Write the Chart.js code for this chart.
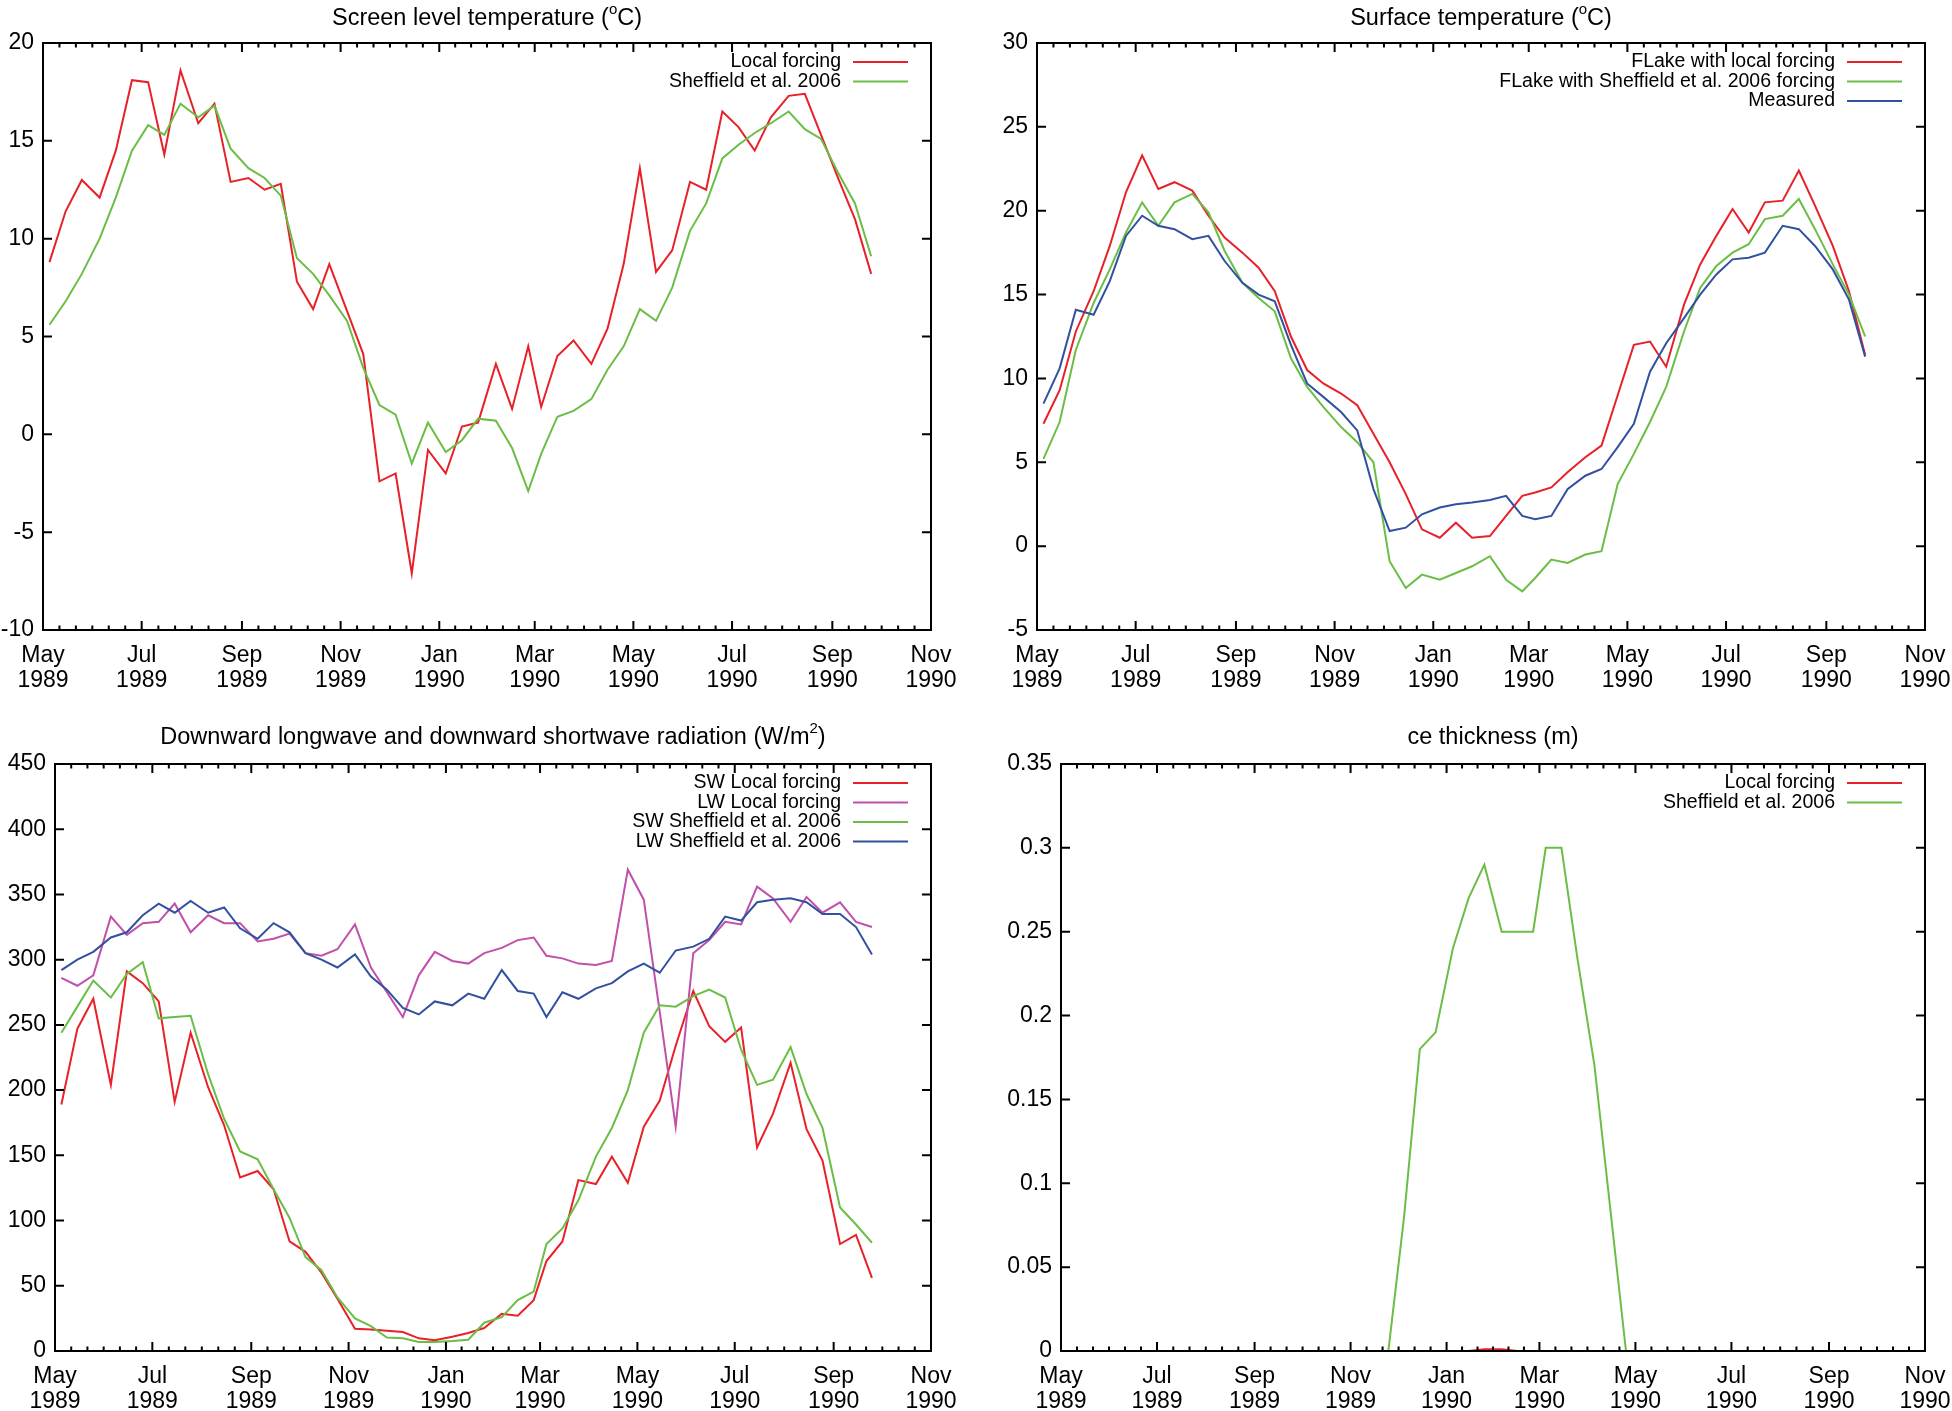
<!DOCTYPE html>
<html>
<head>
<meta charset="utf-8">
<script src="https://cdn.jsdelivr.net/npm/chart.js@4.4.0/dist/chart.umd.min.js"></script>
<style>
body { margin: 0; background: #fff; }
canvas { position: absolute; }
</style>
</head>
<body>
<canvas id="tl" style="left:0;top:0" width="976" height="705"></canvas>
<canvas id="tr" style="left:976px;top:0" width="976" height="705"></canvas>
<canvas id="bl" style="left:0;top:705px" width="976" height="706"></canvas>
<canvas id="br" style="left:976px;top:705px" width="976" height="706"></canvas>
<script>
// x tick labels (two lines each) and their dates
var xTickLabels = ['May 1989', 'Jul 1989', 'Sep 1989', 'Nov 1989', 'Jan 1990', 'Mar 1990', 'May 1990', 'Jul 1990', 'Sep 1990', 'Nov 1990'];
var xTickDates = ['1989-05-01', '1989-07-01', '1989-09-01', '1989-11-01', '1990-01-01', '1990-03-01', '1990-05-01', '1990-07-01', '1990-09-01', '1990-11-01'];

// the series are dekad means, May 1989 .. Sep 1990 (3 per month)
var firstMonth = '1989-05';
var dekadDay = [5, 15, 25];
var nPoints = 51;

// Screen level temperature (oC)
var screenLocal = [8.8, 11.4, 13.0, 12.1, 14.5, 18.1, 18.0, 14.3, 18.6, 15.9, 16.9, 12.9, 13.1, 12.5, 12.8, 7.8, 6.4, 8.7, 6.3, 4.1, -2.4, -2.0, -7.1, -0.8, -2.0, 0.4, 0.6, 3.6, 1.3, 4.5, 1.4, 4.0, 4.8, 3.6, 5.4, 8.7, 13.6, 8.3, 9.4, 12.9, 12.5, 16.5, 15.7, 14.5, 16.2, 17.3, 17.4, 15.3, 13.0, 11.0, 8.2];
var screenSheff = [5.6, 6.8, 8.2, 10.0, 12.1, 14.5, 15.8, 15.3, 16.9, 16.2, 16.8, 14.6, 13.6, 13.1, 12.2, 9.0, 8.2, 7.1, 5.8, 3.4, 1.5, 1.0, -1.5, 0.6, -0.9, -0.3, 0.8, 0.7, -0.7, -2.9, -1.0, 0.9, 1.2, 1.8, 3.3, 4.5, 6.4, 5.8, 7.5, 10.4, 11.8, 14.1, 14.8, 15.4, 15.9, 16.5, 15.6, 15.1, 13.3, 11.8, 9.1];
var screenYTicks = [-10, -5, 0, 5, 10, 15, 20];

// Surface temperature (oC)
var surfLocal = [7.3, 9.3, 12.8, 15.2, 17.9, 21.1, 23.3, 21.3, 21.7, 21.2, 19.7, 18.4, 17.5, 16.6, 15.2, 12.5, 10.5, 9.7, 9.1, 8.4, 6.7, 5.0, 3.1, 1.0, 0.5, 1.4, 0.5, 0.6, 1.8, 3.0, 3.2, 3.5, 4.4, 5.3, 6.0, 9.0, 12.0, 12.2, 10.7, 14.4, 16.8, 18.5, 20.1, 18.7, 20.5, 20.6, 22.4, 20.3, 17.9, 15.2, 11.4];
var surfSheff = [5.2, 7.4, 11.7, 14.5, 16.5, 18.7, 20.5, 19.1, 20.5, 21.0, 19.9, 17.6, 15.7, 14.8, 14.0, 11.2, 9.5, 8.3, 7.1, 6.2, 5.0, -0.9, -2.5, -1.7, -2.0, -1.6, -1.2, -0.6, -2.0, -2.7, -1.9, -0.8, -1.0, -0.5, -0.3, 3.7, 5.5, 7.4, 9.5, 12.8, 15.4, 16.7, 17.5, 18.0, 19.5, 19.7, 20.7, 18.9, 16.8, 15.0, 12.5];
var surfMeasured = [8.5, 10.6, 14.1, 13.8, 15.8, 18.5, 19.7, 19.1, 18.9, 18.3, 18.5, 17.0, 15.7, 15.0, 14.6, 12.0, 9.7, 8.9, 8.0, 6.9, 3.4, 0.9, 1.1, 1.9, 2.3, 2.5, 2.6, 2.75, 3.0, 1.8, 1.6, 1.8, 3.4, 4.2, 4.6, 5.9, 7.3, 10.4, 12.1, 13.6, 15.0, 16.2, 17.1, 17.2, 17.5, 19.1, 18.9, 17.9, 16.5, 14.7, 11.3];
var surfYTicks = [-5, 0, 5, 10, 15, 20, 25, 30];

// Downward longwave / shortwave radiation (W/m2)
var swLocal = [189, 247, 270, 204, 291, 282, 268, 191, 244, 202, 173, 133, 138, 124, 84, 76, 60, 40, 17, 16.5, 15.5, 14.5, 9.7, 8.3, 11, 13.8, 17.6, 28.6, 27, 39, 69, 84, 131, 128, 149, 129, 172, 192, 234, 276, 249, 237, 248, 156, 182, 221, 170, 146, 82, 89, 56];
var lwLocal = [286, 280, 288, 333, 319, 328, 329, 343, 321, 334, 328, 328, 314, 316, 320, 305, 303, 308, 327, 294, 275, 256, 288, 306, 299, 297, 305, 309, 315, 317, 303, 301, 297, 296, 299, 369, 346, 260, 172, 305, 315, 329, 327, 356, 347, 329, 348, 336, 344, 329, 325];
var swSheff = [244, 264, 284, 271, 289, 298, 255, 256, 257, 212, 178, 153, 147, 124, 102, 72, 62, 41, 25, 19, 10.3, 9.7, 6.9, 6.9, 7.6, 8.6, 21.7, 25.9, 39, 45.5, 82, 94, 115.5, 149, 171, 200, 244, 265, 264, 272, 277, 271, 231, 204, 208, 233, 197, 171, 110, 97, 83];
var lwSheff = [292, 300, 306, 317, 321, 334, 343, 336, 345, 336, 340, 324, 316, 328, 321, 305, 300, 294, 304, 287, 277, 263, 258, 268, 265, 274, 270, 292, 276, 274, 256, 275, 270, 278, 282, 291, 297, 290, 307, 310, 316, 333, 330, 344, 346, 347, 344, 335, 335, 325, 304];
var radYTicks = [0, 50, 100, 150, 200, 250, 300, 350, 400, 450];

// Ice thickness (m)
var iceLocal = [0, 0, 0, 0, 0, 0, 0, 0, 0, 0, 0, 0, 0, 0, 0, 0, 0, 0, 0, 0, 0, 0, 0, 0, 0, 0, 0.001, 0.001, 0, 0, 0, 0, 0, 0, 0, 0, 0, 0, 0, 0, 0, 0, 0, 0, 0, 0, 0, 0, 0, 0, 0];
var iceSheff = [0, 0, 0, 0, 0, 0, 0, 0, 0, 0, 0, 0, 0, 0, 0, 0, 0, 0, 0, 0, 0, 0.08, 0.18, 0.19, 0.24, 0.27, 0.29, 0.25, 0.25, 0.25, 0.30, 0.30, 0.235, 0.17, 0.085, 0, 0, 0, 0, 0, 0, 0, 0, 0, 0, 0, 0, 0, 0, 0, 0];
var iceYTicks = [0, 0.05, 0.1, 0.15, 0.2, 0.25, 0.3, 0.35];

var RED = 'rgb(232,32,40)', MAGENTA = 'rgb(192,80,170)', GREEN = 'rgb(106,190,70)', BLUE = 'rgb(50,80,160)';
var FONT = "'Liberation Sans', Arial, Helvetica, sans-serif";
var DAY = 86400000;
var base = Date.parse(xTickDates[0] + 'T00:00:00Z');

function dayOf(s) { return (Date.parse(s + 'T00:00:00Z') - base) / DAY; }

var xTickDays = xTickDates.map(dayOf);
var y0 = +firstMonth.slice(0, 4), m0 = +firstMonth.slice(5) - 1;
var pointDays = [];
for (var i = 0; i < nPoints; i++) {
    pointDays.push((Date.UTC(y0, m0 + Math.floor(i / 3), dekadDay[i % 3]) - base) / DAY);
}

Chart.defaults.font.family = FONT;
Chart.defaults.color = '#000';

function series(label, color, values) {
    return {
        label: label,
        borderColor: color,
        backgroundColor: color,
        borderWidth: 2,
        pointRadius: 0,
        fill: false,
        tension: 0,
        data: values.map(function (v, i) { return { x: pointDays[i], y: v }; })
    };
}

function makePanel(id, title, area, titleY, yTicks, datasets) {
    var cv = document.getElementById(id);
    var W = cv.width, H = cv.height;
    datasets.forEach(function (d, k) { d.order = -k; });

    var gnuplotLook = {
        id: 'gnuplotLook',
        afterDatasetsDraw: function (chart) {
            var ctx = chart.ctx, ca = chart.chartArea;
            var xs = chart.scales.x, ys = chart.scales.y;
            ctx.save();
            ctx.strokeStyle = '#000';
            ctx.lineWidth = 2;
            ctx.beginPath();
            yTicks.forEach(function (v) {
                var p = ys.getPixelForValue(v);
                ctx.moveTo(ca.left, p); ctx.lineTo(ca.left + 9, p);
                ctx.moveTo(ca.right, p); ctx.lineTo(ca.right - 9, p);
            });
            xTickDays.forEach(function (v, k) {
                var p = xs.getPixelForValue(v);
                ctx.moveTo(p, ca.bottom); ctx.lineTo(p, ca.bottom - 9);
                ctx.moveTo(p, ca.top); ctx.lineTo(p, ca.top + 9);
                if (k < xTickDays.length - 1) {
                    for (var j = 1; j < 6; j++) {
                        var q = xs.getPixelForValue(v + (xTickDays[k + 1] - v) * j / 6);
                        ctx.moveTo(q, ca.bottom); ctx.lineTo(q, ca.bottom - 4.5);
                        ctx.moveTo(q, ca.top); ctx.lineTo(q, ca.top + 4.5);
                    }
                }
            });
            ctx.stroke();
            ctx.strokeRect(ca.left, ca.top, ca.right - ca.left, ca.bottom - ca.top);
            ctx.restore();
        },
        afterDraw: function (chart) {
            var ctx = chart.ctx, ca = chart.chartArea;
            ctx.save();
            // key, top right inside the frame
            ctx.font = '19.5px ' + FONT;
            ctx.textAlign = 'right';
            ctx.textBaseline = 'middle';
            chart.data.datasets.forEach(function (d, k) {
                var y = ca.top + 19 + k * 19.5;
                ctx.fillStyle = '#000';
                ctx.fillText(d.label, ca.right - 90, y);
                ctx.strokeStyle = d.borderColor;
                ctx.lineWidth = 2;
                ctx.beginPath();
                ctx.moveTo(ca.right - 78, y);
                ctx.lineTo(ca.right - 23, y);
                ctx.stroke();
            });
            // title with superscripts
            var big = '23.5px ' + FONT, small = '15px ' + FONT;
            var total = 0;
            title.forEach(function (p) { ctx.font = p.sup ? small : big; total += ctx.measureText(p.t).width; });
            var x = (ca.left + ca.right) / 2 - total / 2;
            ctx.textAlign = 'left';
            ctx.fillStyle = '#000';
            title.forEach(function (p) {
                ctx.font = p.sup ? small : big;
                ctx.fillText(p.t, x, p.sup ? titleY - 9 : titleY);
                x += ctx.measureText(p.t).width;
            });
            ctx.restore();
        }
    };

    return new Chart(cv, {
        type: 'line',
        data: { datasets: datasets },
        options: {
            responsive: false,
            animation: false,
            devicePixelRatio: 1,
            layout: { padding: { top: area.top, left: 0, right: W - area.right, bottom: 0 } },
            plugins: { legend: { display: false }, title: { display: false }, tooltip: { enabled: false } },
            scales: {
                x: {
                    type: 'linear',
                    min: xTickDays[0],
                    max: xTickDays[xTickDays.length - 1],
                    grid: { display: false, drawTicks: false },
                    border: { display: false },
                    afterBuildTicks: function (s) { s.ticks = xTickDays.map(function (v) { return { value: v }; }); },
                    afterFit: function (s) { s.height = H - area.bottom; s.paddingLeft = 0; s.paddingRight = 0; },
                    ticks: {
                        autoSkip: false,
                        maxRotation: 0,
                        padding: 13,
                        font: { size: 23, lineHeight: 1.08 },
                        callback: function (v) {
                            var k = xTickDays.indexOf(v);
                            return k < 0 ? '' : xTickLabels[k].split(' ');
                        }
                    }
                },
                y: {
                    type: 'linear',
                    min: yTicks[0],
                    max: yTicks[yTicks.length - 1],
                    grid: { display: false, drawTicks: false },
                    border: { display: false },
                    afterBuildTicks: function (s) { s.ticks = yTicks.map(function (v) { return { value: v }; }); },
                    afterFit: function (s) { s.width = area.left; s.paddingTop = 0; s.paddingBottom = 0; },
                    ticks: {
                        padding: 9,
                        font: { size: 23 },
                        callback: function (v) { return String(+v.toFixed(2)); }
                    }
                }
            }
        },
        plugins: [gnuplotLook]
    });
}

makePanel('tl', [{ t: 'Screen level temperature (' }, { t: 'o', sup: true }, { t: 'C)' }],
    { left: 43, right: 931, top: 43, bottom: 630 }, 19, screenYTicks, [
        series('Local forcing', RED, screenLocal),
        series('Sheffield et al. 2006', GREEN, screenSheff)
    ]);

makePanel('tr', [{ t: 'Surface temperature (' }, { t: 'o', sup: true }, { t: 'C)' }],
    { left: 61, right: 949, top: 43, bottom: 630 }, 19, surfYTicks, [
        series('FLake with local forcing', RED, surfLocal),
        series('FLake with Sheffield et al. 2006 forcing', GREEN, surfSheff),
        series('Measured', BLUE, surfMeasured)
    ]);

makePanel('bl', [{ t: 'Downward longwave and downward shortwave radiation (W/m' }, { t: '2', sup: true }, { t: ')' }],
    { left: 55, right: 931, top: 59, bottom: 646 }, 33, radYTicks, [
        series('SW Local forcing', RED, swLocal),
        series('LW Local forcing', MAGENTA, lwLocal),
        series('SW Sheffield et al. 2006', GREEN, swSheff),
        series('LW Sheffield et al. 2006', BLUE, lwSheff)
    ]);

makePanel('br', [{ t: 'ce thickness (m)' }],
    { left: 85, right: 949, top: 59, bottom: 646 }, 33, iceYTicks, [
        series('Local forcing', RED, iceLocal),
        series('Sheffield et al. 2006', GREEN, iceSheff)
    ]);
</script>
</body>
</html>
